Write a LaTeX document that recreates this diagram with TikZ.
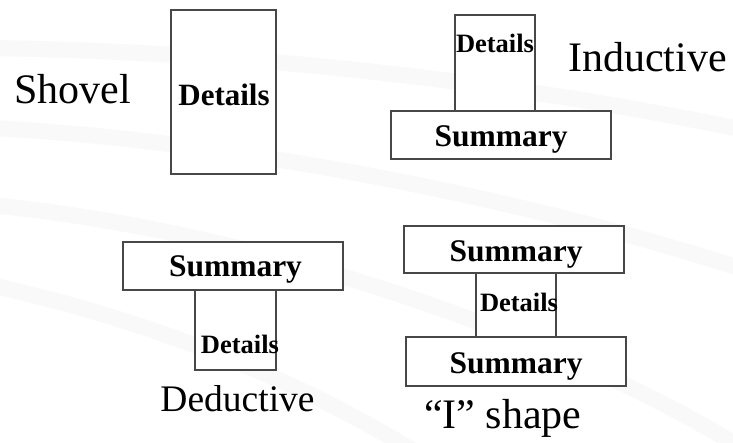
\documentclass[tikz,border=0pt]{standalone}
\usepackage{fontspec}
\setmainfont{Liberation Serif}
\begin{document}
\begin{tikzpicture}[x=1pt,y=-1pt,
  box/.style={draw=black!72,line width=1.1pt,fill=white,rectangle,inner sep=0pt},
  bigword/.style={inner sep=0pt,anchor=base,font=\fontsize{42}{48}\selectfont},
  sumword/.style={inner sep=0pt,anchor=base,font=\fontsize{31.5}{36}\selectfont\bfseries},
  detword/.style={inner sep=0pt,anchor=base,font=\fontsize{26.5}{30}\selectfont\bfseries},
  swoosh/.style={draw=black!2.5,line width=16pt,line cap=round}]
\useasboundingbox (0,0) rectangle (733,443);
\fill[white] (0,0) rectangle (733,443);
% faint template swooshes in the background
\draw[swoosh] (-10,48) .. controls (250,52) and (500,80) .. (745,130);
\draw[swoosh] (-10,128) .. controls (200,138) and (500,190) .. (745,270);
\draw[swoosh] (-10,205) .. controls (250,230) and (550,330) .. (745,450);
\draw[swoosh] (-10,285) .. controls (150,320) and (300,380) .. (420,455);

% Shovel
\node[box,minimum width=105pt,minimum height=164pt] (shbox) at (223.5,92) {};
\node[inner sep=0pt,anchor=base,font=\fontsize{31}{36}\selectfont\bfseries] (shdet) at (224,106) {Details};
\node[bigword,anchor=base west] (shlabel) at (14,104) {Shovel};

% Inductive
\node[box,minimum width=80pt,minimum height=96pt] (indet) at (495,63) {};
\node[box,minimum width=220pt,minimum height=48pt] (insum) at (501,135) {};
\node[detword] (indettxt) at (495,52.5) {Details};
\node[sumword] (insumtxt) at (501,147) {Summary};
\node[bigword,anchor=base west] (inlabel) at (568,72) {Inductive};

% Deductive
\node[box,minimum width=220pt,minimum height=48pt] (desum) at (233,266) {};
\node[box,minimum width=81pt,minimum height=80pt] (dedet) at (235.5,330) {};
\node[sumword] (desumtxt) at (235.5,277) {Summary};
\node[detword] (dedettxt) at (240,353) {Details};
\node[bigword,font=\fontsize{37.5}{44}\selectfont] (delabel) at (237.5,411) {Deductive};

% "I" shape
\node[box,minimum width=220pt,minimum height=47pt] (itop) at (514,249.5) {};
\node[box,minimum width=80pt,minimum height=64pt] (idet) at (516,305) {};
\node[box,minimum width=220pt,minimum height=49pt] (ibot) at (516,361.5) {};
\node[sumword] (itoptxt) at (516,262) {Summary};
\node[detword] (idettxt) at (519,312) {Details};
\node[sumword] (ibottxt) at (516,373) {Summary};
\node[bigword,anchor=base west] (ilabel) at (424,428) {``I'' shape};
\end{tikzpicture}
\end{document}
